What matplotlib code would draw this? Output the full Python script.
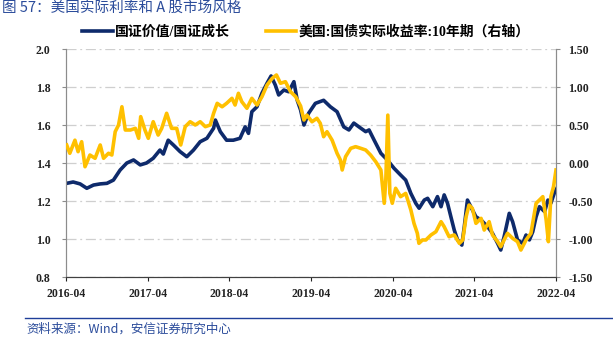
import numpy as np
import pandas as pd
import matplotlib
matplotlib.use("Agg")
import matplotlib.pyplot as plt
import matplotlib.dates as mdates
from matplotlib.font_manager import FontProperties

# ----------------------------------------------------------------------
# Series: value/growth ratio (left axis) and US 10y real yield (right axis)
# ----------------------------------------------------------------------
ratio_dates = [
    "2016-04-04", "2016-05-03", "2016-06-03", "2016-07-03", "2016-08-02",
    "2016-09-01", "2016-10-01", "2016-10-30", "2016-11-29", "2016-12-29",
    "2017-01-28", "2017-02-27", "2017-03-27", "2017-04-26", "2017-05-26",
    "2017-06-10", "2017-07-02", "2017-07-25", "2017-08-24", "2017-09-23",
    "2017-10-23", "2017-11-22", "2017-12-22", "2018-01-21", "2018-01-29",
    "2018-02-20", "2018-03-20", "2018-04-19", "2018-05-19", "2018-06-11",
    "2018-06-26", "2018-07-11", "2018-08-03", "2018-08-25", "2018-09-17",
    "2018-10-05", "2018-10-24", "2018-11-08", "2018-12-01", "2018-12-23",
    "2019-01-15", "2019-01-30", "2019-02-14", "2019-03-01", "2019-03-22",
    "2019-04-21", "2019-05-28", "2019-06-27", "2019-07-27", "2019-08-26",
    "2019-09-18", "2019-10-10", "2019-11-02", "2019-12-02", "2019-12-17",
    "2020-01-09", "2020-02-08", "2020-03-08", "2020-04-07", "2020-05-06",
    "2020-05-29", "2020-06-21", "2020-07-13", "2020-07-28", "2020-08-20",
    "2020-09-04", "2020-09-27", "2020-10-18", "2020-11-03", "2020-11-17",
    "2020-12-02", "2020-12-17", "2021-01-01", "2021-01-16", "2021-02-04",
    "2021-02-15", "2021-03-01", "2021-03-16", "2021-04-08", "2021-05-01",
    "2021-05-30", "2021-06-21", "2021-07-14", "2021-07-28", "2021-08-12",
    "2021-09-04", "2021-09-19", "2021-10-11", "2021-11-03", "2021-11-18",
    "2021-12-03", "2021-12-18", "2022-01-02", "2022-01-17", "2022-02-09",
    "2022-02-24", "2022-03-09", "2022-03-24", "2022-04-05",
]
ratio_values = [
    1.293, 1.300, 1.290, 1.267, 1.284, 1.290, 1.293, 1.310, 1.363, 1.400,
    1.416, 1.390, 1.400, 1.425, 1.468, 1.447, 1.520, 1.495, 1.460, 1.433,
    1.468, 1.512, 1.530, 1.583, 1.626, 1.565, 1.520, 1.520, 1.530, 1.590,
    1.556, 1.670, 1.696, 1.767, 1.820, 1.858, 1.810, 1.758, 1.784, 1.775,
    1.828, 1.730, 1.679, 1.600, 1.662, 1.714, 1.730, 1.696, 1.670, 1.590,
    1.574, 1.610, 1.590, 1.565, 1.574, 1.520, 1.451, 1.416, 1.372, 1.337,
    1.310, 1.240, 1.188, 1.162, 1.205, 1.214, 1.170, 1.223, 1.170, 1.232,
    1.188, 1.117, 1.047, 0.995, 0.968, 1.065, 1.205, 1.170, 1.117, 1.100,
    1.065, 1.030, 0.977, 0.942, 1.012, 1.135, 1.091, 0.995, 0.977, 1.021,
    0.995, 1.038, 1.117, 1.170, 1.144, 1.205, 1.188, 1.240, 1.267,
]

yield_dates = [
    "2016-04-04", "2016-04-18", "2016-05-11", "2016-05-25", "2016-06-10",
    "2016-06-25", "2016-07-17", "2016-08-09", "2016-09-01", "2016-09-16",
    "2016-10-08", "2016-10-23", "2016-11-07", "2016-11-22", "2016-12-07",
    "2016-12-22", "2017-01-14", "2017-02-05", "2017-02-20", "2017-03-01",
    "2017-03-20", "2017-04-04", "2017-04-26", "2017-05-18", "2017-06-03",
    "2017-06-25", "2017-07-17", "2017-08-09", "2017-08-27", "2017-09-16",
    "2017-10-08", "2017-10-31", "2017-11-22", "2017-12-15", "2018-01-06",
    "2018-01-21", "2018-02-06", "2018-02-28", "2018-03-20", "2018-04-13",
    "2018-04-27", "2018-05-12", "2018-05-27", "2018-06-19", "2018-07-11",
    "2018-08-03", "2018-08-25", "2018-09-17", "2018-10-10", "2018-10-29",
    "2018-11-16", "2018-12-08", "2018-12-31", "2019-01-23", "2019-02-14",
    "2019-03-01", "2019-03-14", "2019-04-06", "2019-04-28", "2019-05-13",
    "2019-05-28", "2019-06-12", "2019-07-05", "2019-07-27", "2019-08-11",
    "2019-08-19", "2019-09-03", "2019-09-26", "2019-10-18", "2019-11-10",
    "2019-12-02", "2019-12-24", "2020-01-16", "2020-02-08", "2020-02-23",
    "2020-03-01", "2020-03-10", "2020-03-19", "2020-03-30", "2020-04-14",
    "2020-05-06", "2020-05-29", "2020-06-21", "2020-07-05", "2020-07-20",
    "2020-07-27", "2020-08-12", "2020-08-27", "2020-09-19", "2020-10-11",
    "2020-11-03", "2020-11-17", "2020-12-09", "2021-01-01", "2021-01-24",
    "2021-02-08", "2021-02-23", "2021-03-08", "2021-03-23", "2021-04-08",
    "2021-05-01", "2021-05-15", "2021-06-06", "2021-06-21", "2021-07-14",
    "2021-07-28", "2021-08-12", "2021-08-27", "2021-09-19", "2021-10-11",
    "2021-10-26", "2021-11-18", "2021-12-10", "2022-01-02", "2022-01-17",
    "2022-02-01", "2022-02-16", "2022-02-26", "2022-03-09", "2022-03-21",
    "2022-04-01",
]
yield_values = [
    0.237, 0.128, 0.300, 0.149, 0.280, -0.049, 0.105, 0.062, 0.237, 0.062,
    0.128, 0.105, 0.412, 0.500, 0.740, 0.434, 0.434, 0.456, 0.325, 0.610,
    0.434, 0.325, 0.543, 0.368, 0.456, 0.654, 0.456, 0.456, 0.237, 0.478,
    0.543, 0.500, 0.543, 0.478, 0.500, 0.654, 0.785, 0.740, 0.785, 0.851,
    0.763, 0.917, 0.807, 0.720, 0.851, 0.763, 0.872, 1.026, 1.114, 1.158,
    1.049, 1.070, 0.938, 0.872, 0.750, 0.566, 0.630, 0.543, 0.588, 0.522,
    0.346, 0.412, 0.300, 0.128, 0.039, -0.092, 0.083, 0.193, 0.215, 0.193,
    0.171, 0.105, 0.017, -0.092, -0.530, -0.224, 0.630, -0.400, -0.530, -0.333,
    -0.443, -0.400, -0.618, -0.794, -0.925, -1.057, -1.013, -1.013, -0.947, -0.904,
    -0.772, -0.838, -0.970, -0.947, -1.057, -1.013, -0.707, -0.553, -0.596, -0.794,
    -0.728, -0.882, -0.772, -0.947, -1.035, -1.101, -1.013, -0.925, -0.991, -1.035,
    -1.145, -1.013, -0.925, -0.530, -0.487, -0.443, -0.750, -1.035, -0.443, -0.310,
    -0.092,
]

left_ticks = [0.8, 1.0, 1.2, 1.4, 1.6, 1.8, 2.0]
right_ticks = [-1.5, -1.0, -0.5, 0.0, 0.5, 1.0, 1.5]
x_ticks = ["2016-04", "2017-04", "2018-04", "2019-04", "2020-04", "2021-04", "2022-04"]

label_ratio = "国证价值/国证成长"
label_yield = "美国:国债实际收益率:10年期（右轴）"
title = "图 57：美国实际利率和 A 股市场风格"
source = "资料来源：Wind，安信证券研究中心"

NAVY = "#0E2A6B"
GOLD = "#FFC000"
TITLE_BLUE = "#2B4C9B"

plt.rcParams["font.family"] = ["Liberation Serif", "Noto Sans CJK SC"]

fig = plt.figure(figsize=(6.13, 3.42), dpi=100)
ax = fig.add_axes([66 / 613, 1 - 277 / 342, 490 / 613, 228 / 342])
ax2 = ax.twinx()

d_ratio = pd.to_datetime(ratio_dates)
d_yield = pd.to_datetime(yield_dates)

ln1, = ax.plot(d_ratio, ratio_values, color=NAVY, lw=2.6, zorder=3,
               label=label_ratio)
ln2, = ax2.plot(d_yield, yield_values, color=GOLD, lw=2.6, zorder=4,
                label=label_yield)

ax.set_ylim(0.8, 2.0)
ax2.set_ylim(-1.5, 1.5)
ax.set_xlim(pd.Timestamp("2016-04-01"), pd.Timestamp("2022-04-01"))

ax.set_yticks(left_ticks)
ax.set_yticklabels([f"{v:.1f}" for v in left_ticks])
ax2.set_yticks(right_ticks)
ax2.set_yticklabels([f"{v:.2f}" for v in right_ticks])
ax.set_xticks(pd.to_datetime(x_ticks))
ax.xaxis.set_major_formatter(mdates.DateFormatter("%Y-%m"))

ax.grid(axis="y", color="#CFCFCF", lw=0.9, linestyle=(0, (8, 3, 1.5, 3)))
ax.set_axisbelow(True)

for a in (ax, ax2):
    a.spines["top"].set_visible(False)
    a.spines["left"].set_color("#8C8C8C")
    a.spines["right"].set_color("#8C8C8C")
    a.spines["bottom"].set_color("#404040")
    a.tick_params(labelsize=8.5, width=0.8, length=3, colors="#222222")
ax.tick_params(axis="y", colors="#8C8C8C", labelcolor="#222222", pad=8)
ax2.tick_params(axis="y", colors="#8C8C8C", labelcolor="#222222", pad=6)
ax.tick_params(axis="x", pad=5)
for lab in ax.get_xticklabels() + ax.get_yticklabels() + ax2.get_yticklabels():
    lab.set_fontweight("bold")

leg_font = FontProperties(family=["Liberation Serif", "Noto Sans CJK SC"],
                          weight="bold", size=10)
fig.legend([ln1, ln2], [label_ratio, label_yield], loc="center",
           bbox_to_anchor=(306 / 613, 1 - 32 / 342), ncol=2, frameon=False,
           prop=leg_font, handlelength=2.2, handletextpad=0.15,
           columnspacing=2.6, borderaxespad=0)

fig.text(2 / 613, 1 - 8 / 342, title, color=TITLE_BLUE, fontsize=10.5,
         va="center", ha="left", family=["Noto Sans CJK SC", "DejaVu Sans"])

fig.add_artist(plt.Line2D([25 / 613, 1.0], [1 - 318 / 342, 1 - 318 / 342],
                          color="#1F3F99", lw=1.0))
fig.text(26 / 613, 1 - 329 / 342, source, color=TITLE_BLUE, fontsize=9,
         style="italic", va="center", ha="left",
         family=["Noto Sans CJK SC", "DejaVu Sans"])

fig.savefig("out.png", dpi=100)
